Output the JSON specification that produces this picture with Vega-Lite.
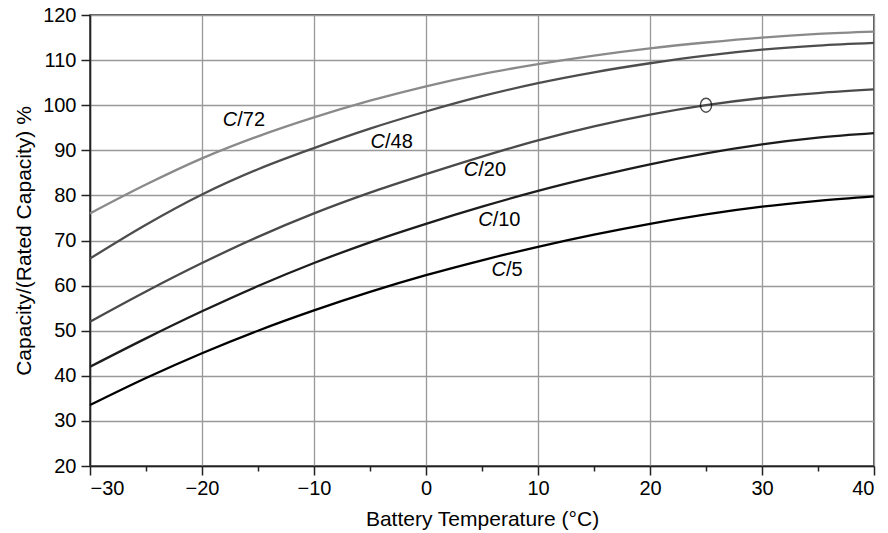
{
  "$schema": "https://vega.github.io/schema/vega-lite/v6.json",
  "width": 784,
  "height": 451,
  "autosize": "none",
  "padding": {"left": 90, "top": 15, "right": 14, "bottom": 67},
  "background": "white",
  "config": {
    "view": {"stroke": "#222", "strokeWidth": 1.5},
    "font": "Liberation Sans",
    "axis": {
      "labelFont": "Liberation Sans",
      "labelFontSize": 20,
      "labelColor": "#000",
      "titleFont": "Liberation Sans",
      "titleFontSize": 21,
      "titleFontWeight": "normal",
      "titleColor": "#000",
      "domainColor": "#222",
      "domainWidth": 1.5,
      "tickColor": "#222",
      "tickWidth": 1.5,
      "gridColor": "#999",
      "gridWidth": 1.3,
      "gridOpacity": 1
    }
  },
  "datasets": {
    "curves": [
      {"rate": "C/72", "T": -30, "V": 76.0}, {"rate": "C/72", "T": -25, "V": 82.4}, {"rate": "C/72", "T": -20, "V": 88.2},
      {"rate": "C/72", "T": -15, "V": 93.1}, {"rate": "C/72", "T": -10, "V": 97.3}, {"rate": "C/72", "T": -5, "V": 101.0},
      {"rate": "C/72", "T": 0, "V": 104.2}, {"rate": "C/72", "T": 5, "V": 106.9}, {"rate": "C/72", "T": 10, "V": 109.1},
      {"rate": "C/72", "T": 15, "V": 111.0}, {"rate": "C/72", "T": 20, "V": 112.6}, {"rate": "C/72", "T": 25, "V": 113.9},
      {"rate": "C/72", "T": 30, "V": 115.0}, {"rate": "C/72", "T": 35, "V": 115.8}, {"rate": "C/72", "T": 40, "V": 116.3},
      {"rate": "C/48", "T": -30, "V": 66.0}, {"rate": "C/48", "T": -25, "V": 73.5}, {"rate": "C/48", "T": -20, "V": 80.2},
      {"rate": "C/48", "T": -15, "V": 85.8}, {"rate": "C/48", "T": -10, "V": 90.5}, {"rate": "C/48", "T": -5, "V": 94.8},
      {"rate": "C/48", "T": 0, "V": 98.6}, {"rate": "C/48", "T": 5, "V": 102.0}, {"rate": "C/48", "T": 10, "V": 104.9},
      {"rate": "C/48", "T": 15, "V": 107.3}, {"rate": "C/48", "T": 20, "V": 109.3}, {"rate": "C/48", "T": 25, "V": 111.0},
      {"rate": "C/48", "T": 30, "V": 112.3}, {"rate": "C/48", "T": 35, "V": 113.2}, {"rate": "C/48", "T": 40, "V": 113.8},
      {"rate": "C/20", "T": -30, "V": 52.0}, {"rate": "C/20", "T": -25, "V": 58.7}, {"rate": "C/20", "T": -20, "V": 65.0},
      {"rate": "C/20", "T": -15, "V": 70.8}, {"rate": "C/20", "T": -10, "V": 76.0}, {"rate": "C/20", "T": -5, "V": 80.6},
      {"rate": "C/20", "T": 0, "V": 84.7}, {"rate": "C/20", "T": 5, "V": 88.6}, {"rate": "C/20", "T": 10, "V": 92.2},
      {"rate": "C/20", "T": 15, "V": 95.3}, {"rate": "C/20", "T": 20, "V": 97.9}, {"rate": "C/20", "T": 25, "V": 100.0},
      {"rate": "C/20", "T": 30, "V": 101.6}, {"rate": "C/20", "T": 35, "V": 102.7}, {"rate": "C/20", "T": 40, "V": 103.5},
      {"rate": "C/10", "T": -30, "V": 42.0}, {"rate": "C/10", "T": -25, "V": 48.3}, {"rate": "C/10", "T": -20, "V": 54.3},
      {"rate": "C/10", "T": -15, "V": 59.9}, {"rate": "C/10", "T": -10, "V": 65.0}, {"rate": "C/10", "T": -5, "V": 69.6},
      {"rate": "C/10", "T": 0, "V": 73.7}, {"rate": "C/10", "T": 5, "V": 77.5}, {"rate": "C/10", "T": 10, "V": 81.0},
      {"rate": "C/10", "T": 15, "V": 84.1}, {"rate": "C/10", "T": 20, "V": 86.9}, {"rate": "C/10", "T": 25, "V": 89.3},
      {"rate": "C/10", "T": 30, "V": 91.3}, {"rate": "C/10", "T": 35, "V": 92.8}, {"rate": "C/10", "T": 40, "V": 93.8},
      {"rate": "C/5", "T": -30, "V": 33.5}, {"rate": "C/5", "T": -25, "V": 39.5}, {"rate": "C/5", "T": -20, "V": 45.0},
      {"rate": "C/5", "T": -15, "V": 50.0}, {"rate": "C/5", "T": -10, "V": 54.5}, {"rate": "C/5", "T": -5, "V": 58.6},
      {"rate": "C/5", "T": 0, "V": 62.3}, {"rate": "C/5", "T": 5, "V": 65.6}, {"rate": "C/5", "T": 10, "V": 68.6},
      {"rate": "C/5", "T": 15, "V": 71.3}, {"rate": "C/5", "T": 20, "V": 73.7}, {"rate": "C/5", "T": 25, "V": 75.8},
      {"rate": "C/5", "T": 30, "V": 77.5}, {"rate": "C/5", "T": 35, "V": 78.8}, {"rate": "C/5", "T": 40, "V": 79.8}
    ],
    "labels": [
      {"rate": "C/72", "num": "/72", "T": -16.85, "V": 96.7},
      {"rate": "C/48", "num": "/48", "T": -3.66, "V": 91.9},
      {"rate": "C/20", "num": "/20", "T": 4.67, "V": 85.6},
      {"rate": "C/10", "num": "/10", "T": 5.95, "V": 74.5},
      {"rate": "C/5", "num": "/5", "T": 7.14, "V": 63.5}
    ],
    "marker": [
      {"T": 25, "V": 100}
    ]
  },
  "layer": [
    {
      "data": {"name": "curves"},
      "mark": {"type": "line", "interpolate": "monotone", "strokeWidth": 2.3},
      "encoding": {
        "x": {
          "field": "T", "type": "quantitative",
          "scale": {"domain": [-30, 40], "nice": false, "zero": false},
          "axis": {
            "values": [-30, -20, -10, 0, 10, 20, 30, 40],
            "title": "Battery Temperature (°C)",
            "titlePadding": 10,
            "tickSize": 9,
            "labelPadding": 3,
            "grid": true,
            "orient": "bottom",
            "labelExpr": "replace(format(datum.value, 'd'), '-', '−')"
          }
        },
        "y": {
          "field": "V", "type": "quantitative",
          "scale": {"domain": [20, 120], "nice": false, "zero": false},
          "axis": {
            "values": [20, 30, 40, 50, 60, 70, 80, 90, 100, 110, 120],
            "title": "Capacity/(Rated Capacity) %",
            "titlePadding": 8,
            "tickSize": 9,
            "labelPadding": 5,
            "grid": true
          }
        },
        "color": {
          "field": "rate", "type": "nominal",
          "scale": {"domain": ["C/72", "C/48", "C/20", "C/10", "C/5"], "range": ["#8a8a8a", "#4d4d4d", "#4a4a4a", "#1c1c1c", "#000000"]},
          "legend": null
        }
      }
    },
    {
      "data": {"name": "marker"},
      "mark": {"type": "point", "shape": "M-0.8,0A0.8,1,0,1,0,0.8,0A0.8,1,0,1,0,-0.8,0Z", "filled": false, "stroke": "#000", "strokeWidth": 1.4, "size": 196},
      "encoding": {
        "x": {
          "field": "T", "type": "quantitative",
          "axis": {
            "values": [-25, -15, -5, 5, 15, 25, 35],
            "labels": false, "grid": false, "domain": false,
            "tickSize": 5, "title": null, "orient": "bottom"
          }
        },
        "y": {"field": "V", "type": "quantitative"}
      }
    },
    {
      "data": {"name": "labels"},
      "mark": {"type": "text", "text": "C", "align": "right", "baseline": "middle", "fontStyle": "italic", "fontSize": 20, "font": "Liberation Sans", "color": "#000"},
      "encoding": {
        "x": {"field": "T", "type": "quantitative", "axis": null},
        "y": {"field": "V", "type": "quantitative"}
      }
    },
    {
      "data": {"name": "labels"},
      "mark": {"type": "text", "align": "left", "baseline": "middle", "fontSize": 20, "font": "Liberation Sans", "color": "#000"},
      "encoding": {
        "x": {"field": "T", "type": "quantitative", "axis": null},
        "y": {"field": "V", "type": "quantitative"},
        "text": {"field": "num"}
      }
    }
  ],
  "resolve": {"axis": {"x": "independent"}}
}
